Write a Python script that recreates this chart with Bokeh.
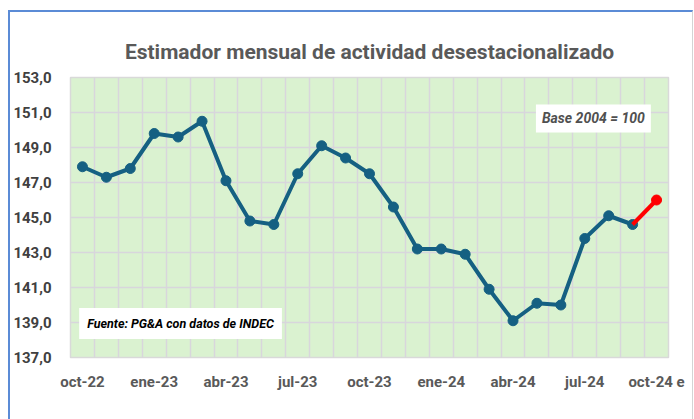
from bokeh.plotting import figure
from bokeh.models import FixedTicker, Label, ColumnDataSource
from bokeh.embed import file_html
from bokeh.resources import INLINE

months = ["oct-22", "nov-22", "dic-22", "ene-23", "feb-23", "mar-23", "abr-23", "may-23",
          "jun-23", "jul-23", "ago-23", "sep-23", "oct-23", "nov-23", "dic-23", "ene-24",
          "feb-24", "mar-24", "abr-24", "may-24", "jun-24", "jul-24", "ago-24", "sep-24",
          "oct-24 e"]
values = [147.9, 147.3, 147.8, 149.8, 149.6, 150.5, 147.1, 144.8, 144.6, 147.5, 149.1,
          148.4, 147.5, 145.6, 143.2, 143.2, 142.9, 140.9, 139.1, 140.1, 140.0, 143.8,
          145.1, 144.6, 146.0]
y_ticks = [137, 139, 141, 143, 145, 147, 149, 151, 153]
title_text = "Estimador mensual de actividad desestacionalizado"
base_text = "Base 2004 = 100"
source_text = "Fuente: PG&A con datos de INDEC"

FONT = "Roboto"
idx = list(range(len(months)))
n_obs = len(months) - 1  # last point is an estimate

obs = ColumnDataSource(dict(x=idx[:n_obs], y=values[:n_obs]))
est = ColumnDataSource(dict(x=idx[n_obs - 1:], y=values[n_obs - 1:]))

p = figure(width=685, height=409, output_backend="svg", toolbar_location=None,
           x_range=(-0.5, len(months) - 0.5), y_range=(137, 153),
           min_border_left=60, min_border_right=27, min_border_top=65, min_border_bottom=64,
           title=title_text)
p.margin = (10, 0, 0, 8)
p.styles = {"border-top": "2px solid #5b8bd6", "border-left": "2px solid #5b8bd6",
            "border-right": "1px solid #d4d4d4"}
p.background_fill_color = "#daf2d0"
p.border_fill_color = "white"
p.outline_line_color = "#d9d9d9"
p.outline_line_width = 1.5

p.title.align = "center"
p.title.text_font = FONT
p.title.text_font_size = "21px"
p.title.text_font_style = "bold"
p.title.text_color = "#595959"
p.title.standoff = 28

# axes
p.xaxis.ticker = FixedTicker(ticks=idx[::3])
p.xaxis.major_label_overrides = {i: months[i] for i in idx[::3]}
p.yaxis.ticker = FixedTicker(ticks=y_ticks)
p.yaxis.major_label_overrides = {v: f"{v},0" for v in y_ticks}
for ax in (p.xaxis[0], p.yaxis[0]):
    ax.axis_line_color = None
    ax.major_tick_line_color = None
    ax.minor_tick_line_color = None
    ax.major_label_text_font = FONT
    ax.major_label_text_font_size = "15px"
    ax.major_label_text_font_style = "bold"
p.xaxis.major_label_text_color = "#595959"
p.yaxis.major_label_text_color = "#404040"
p.xaxis.major_label_standoff = 9
p.yaxis.major_label_standoff = 13

# grids
p.xgrid.ticker = FixedTicker(ticks=[i - 0.5 for i in range(len(months) + 1)])
p.xgrid.grid_line_color = "#d8d6dc"
p.xgrid.grid_line_width = 1.5
p.ygrid.ticker = FixedTicker(ticks=y_ticks)
p.ygrid.grid_line_color = "#d8d6dc"
p.ygrid.grid_line_width = 1.5

# series
p.line("x", "y", source=obs, line_color="#156082", line_width=4)
p.scatter("x", "y", source=obs, size=10, fill_color="#156082", line_color="#156082")
p.line("x", "y", source=est, line_color="#ff0000", line_width=4)
p.scatter(x=[idx[-1]], y=[values[-1]], size=10, fill_color="#ff0000", line_color="#ff0000")

# texts
p.add_layout(Label(x=21.36, y=150.66, text=base_text, text_align="center",
                   text_baseline="middle", text_font=FONT, text_font_size="14px",
                   text_font_style="bold italic", text_color="#505050",
                   background_fill_color="white", padding=6))
p.add_layout(Label(x=4.1, y=138.94, text=source_text, text_align="center",
                   text_baseline="middle", text_font=FONT, text_font_size="12.5px",
                   text_font_style="bold italic", text_color="#000000",
                   background_fill_color="white", padding=8))

open("out.html", "w").write(file_html(p, INLINE))
